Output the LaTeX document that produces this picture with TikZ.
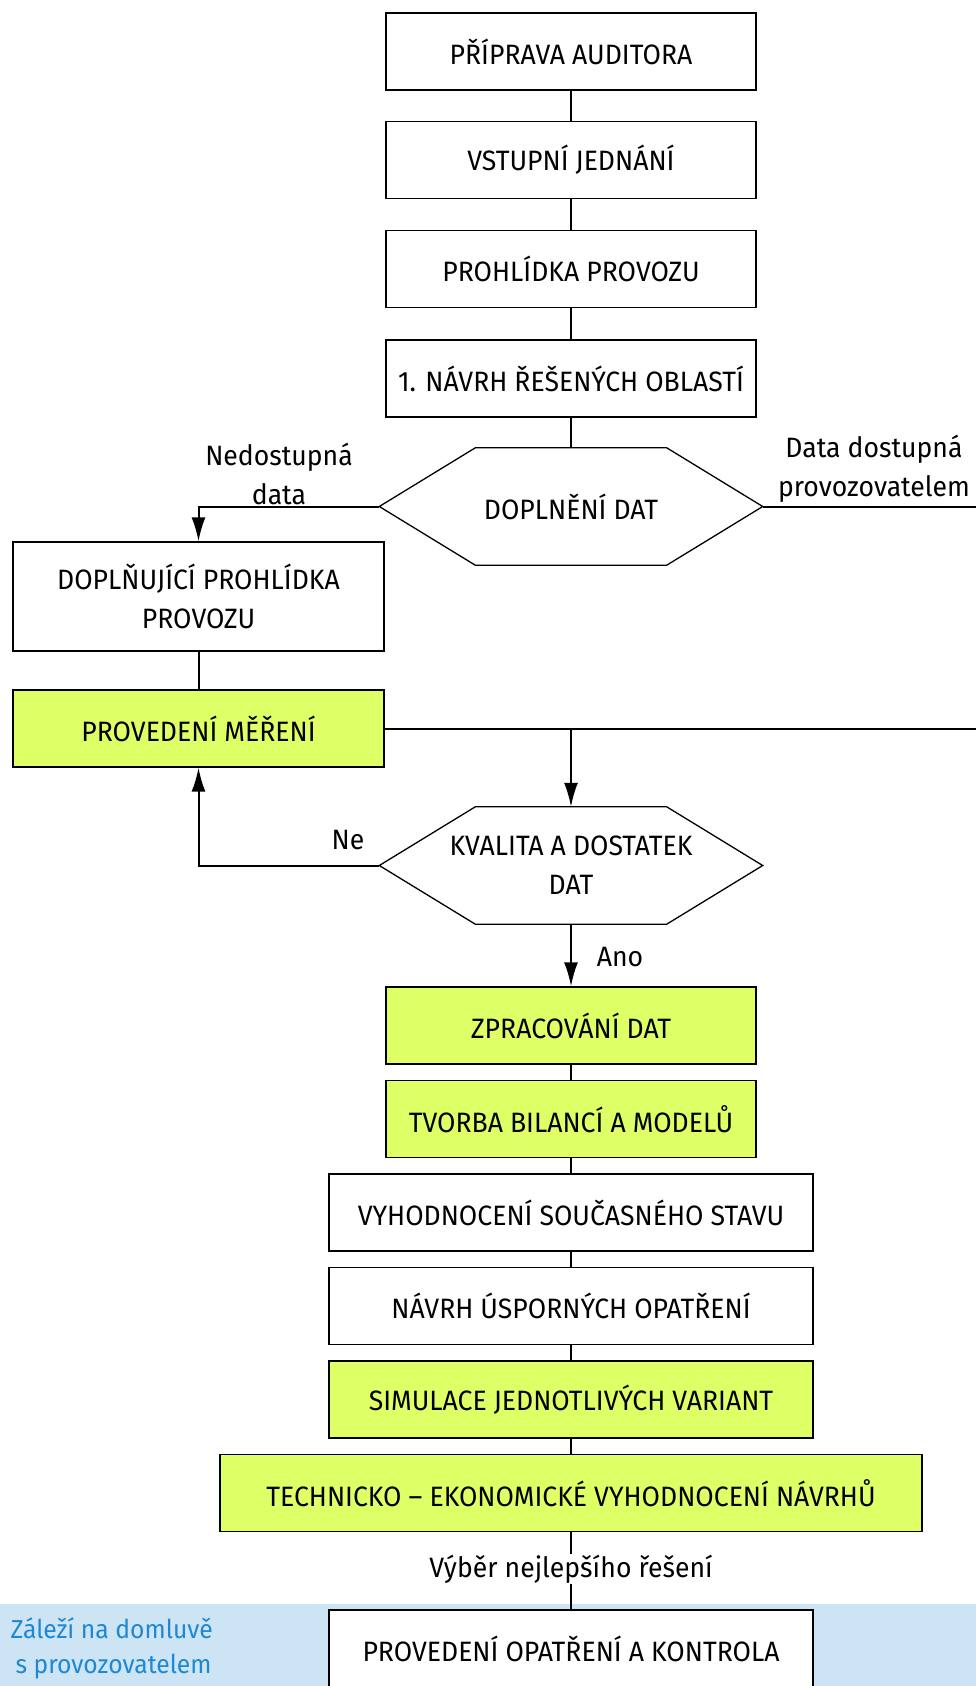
\documentclass[tikz,border=0pt]{standalone}
\usepackage{fontspec}
\setmainfont{Fira Sans}[FakeStretch=0.95]
\usetikzlibrary{arrows.meta}

\definecolor{measgreen}{RGB}{223,255,102}
\definecolor{bandblue}{RGB}{204,228,244}
\definecolor{noteblue}{RGB}{30,136,210}

% hexagon frame round a named node
\newcommand{\hexframe}[1]{\draw[line width=1.3pt,fill=white] (#1.west) -- ([xshift=96pt]#1.north west) -- ([xshift=-96pt]#1.north east) -- (#1.east) -- ([xshift=-96pt]#1.south east) -- ([xshift=96pt]#1.south west) -- cycle;}

\begin{document}
\begin{tikzpicture}[x=1pt,y=-1pt,
  font=\fontsize{28}{39}\selectfont,
  box/.style={draw,line width=1.3pt,fill=white,minimum width=370pt,minimum height=77pt,align=center,inner sep=2pt},
  widebox/.style={box,minimum width=484pt},
  green/.style={fill=measgreen},
  hexa/.style={minimum width=383pt,minimum height=117pt,align=center,inner sep=0pt},
  link/.style={line width=2pt},
  arr/.style={link,-{Latex[length=24pt,width=14pt]}},
  lbl/.style={align=center,inner sep=1pt}]
\useasboundingbox (0,0) rectangle (976,1686);

% band at the bottom
\fill[bandblue] (0,1604) rectangle (976,1686);
\node[anchor=west,align=left,text=noteblue,font=\fontsize{26}{35}\selectfont] (note) at (7,1648) {Záleží na domluvě\\\hspace{5pt}s provozovatelem};

% main column
\node[box] (prep) at (571,51.5) {PŘÍPRAVA AUDITORA};
\node[box] (vstup) at (571,160) {VSTUPNÍ JEDNÁNÍ};
\node[box] (prohl) at (571,269) {PROHLÍDKA PROVOZU};
\node[box] (navrh) at (571,378.5) {1. NÁVRH ŘEŠENÝCH OBLASTÍ};

\node[hexa] (doplneni) at (571,506.5) {};
\hexframe{doplneni}
\node at (doplneni) {DOPLNĚNÍ DAT};

\node[box,minimum width=371pt,minimum height=109pt] (doplnujici) at (198.5,596.5) {DOPLŇUJÍCÍ PROHLÍDKA\\PROVOZU};
\node[box,green,minimum width=371pt] (mereni) at (198.5,728.5) {PROVEDENÍ MĚŘENÍ};

\node[hexa] (kvalita) at (571,865.5) {};
\hexframe{kvalita}
\node at (kvalita) [align=center] {KVALITA A DOSTATEK\\DAT};

\node[box,green] (zprac) at (571,1025.5) {ZPRACOVÁNÍ DAT};
\node[box,green] (tvorba) at (571,1119) {TVORBA BILANCÍ A MODELŮ};
\node[widebox] (vyhod) at (571,1212.5) {VYHODNOCENÍ SOUČASNÉHO STAVU};
\node[widebox] (usporne) at (571,1306) {NÁVRH ÚSPORNÝCH OPATŘENÍ};
\node[widebox,green] (simul) at (571,1399.5) {SIMULACE JEDNOTLIVÝCH VARIANT};
\node[box,green,minimum width=702pt] (techn) at (571,1493) {TECHNICKO -- EKONOMICKÉ VYHODNOCENÍ NÁVRHŮ};
\node[widebox,minimum height=78pt] (opatr) at (571,1649) {PROVEDENÍ OPATŘENÍ A KONTROLA};

% free ends at the right edge
\coordinate (rightA) at (976,506.5);
\coordinate (rightB) at (976,728.5);
\coordinate (branch) at (571,728.5);

% connectors
\draw[link] (prep) -- (vstup);
\draw[link] (vstup) -- (prohl);
\draw[link] (prohl) -- (navrh);
\draw[link] (navrh) -- (doplneni.north);
\draw[arr] (doplneni.west) -| (doplnujici.north);
\draw[link] (doplneni.east) -- (rightA);
\draw[link] (doplnujici) -- (mereni);
\draw[link] (mereni.east) -- (rightB);
\draw[arr] (branch) -- (kvalita.north);
\draw[arr] (kvalita.west) -| (mereni.south);
\draw[arr] (kvalita.south) -- (zprac);
\draw[link] (zprac) -- (tvorba);
\draw[link] (tvorba) -- (vyhod);
\draw[link] (vyhod) -- (usporne);
\draw[link] (usporne) -- (simul);
\draw[link] (simul) -- (techn);
\draw[link] (techn) -- (opatr);

% labels
\node[lbl] (nedost) at (279,474) {Nedostupná\\data};
\node[lbl] (dostupna) at (874,469) {Data dostupná\\provozovatelem};
\node[lbl] (ne) at (348,840) {Ne};
\node[lbl] (ano) at (620,957) {Ano};
\node[lbl,fill=white] (vyber) at (571,1569) {Výběr nejlepšího řešení};
\end{tikzpicture}
\end{document}
